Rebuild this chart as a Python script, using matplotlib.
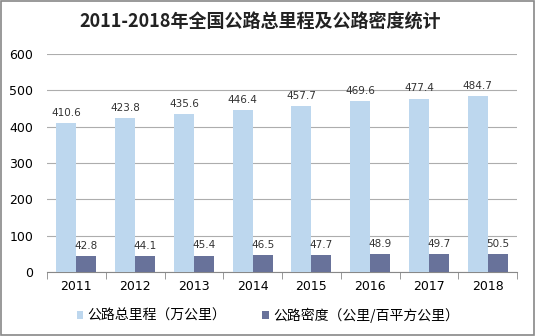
import matplotlib
matplotlib.use("Agg")
import matplotlib.pyplot as plt
import numpy as np

plt.rcParams['font.family'] = ['Noto Sans CJK SC', 'DejaVu Sans']

years = ['2011', '2012', '2013', '2014', '2015', '2016', '2017', '2018']
mileage = [410.6, 423.8, 435.6, 446.4, 457.7, 469.6, 477.4, 484.7]
density = [42.8, 44.1, 45.4, 46.5, 47.7, 48.9, 49.7, 50.5]
series_names = ['公路总里程（万公里）', '公路密度（公里/百平方公里）']
title = '2011-2018年全国公路总里程及公路密度统计'

c_light = '#BDD7EE'
c_dark = '#68729A'

W, H = 536, 336
fig = plt.figure(figsize=(W / 100, H / 100), dpi=100)
ax = fig.add_axes([47 / W, 1 - 272 / H, (517 - 47) / W, (272 - 54) / H])

x = np.arange(len(years))
bw = 0.34
b1 = ax.bar(x - bw / 2, mileage, bw, color=c_light, label=series_names[0], zorder=3)
b2 = ax.bar(x + bw / 2, density, bw, color=c_dark, label=series_names[1], zorder=3)

for rect, v in zip(b1, mileage):
    ax.text(rect.get_x() + rect.get_width() / 2, v + 14, f'{v}', ha='center', va='bottom',
            fontsize=7.5, color='#333333', family='DejaVu Sans')
for rect, v in zip(b2, density):
    ax.text(rect.get_x() + rect.get_width() / 2, v + 14, f'{v}', ha='center', va='bottom',
            fontsize=7.5, color='#333333', family='DejaVu Sans')

ax.set_xlim(-0.5, len(years) - 0.5)
ax.set_ylim(0, 600)
ax.set_yticks(range(0, 601, 100))
ax.set_yticklabels([str(v) for v in range(0, 601, 100)], fontsize=9, family='DejaVu Sans')
ax.set_xticks(x)
ax.set_xticklabels(years, fontsize=9, family='DejaVu Sans')
ax.set_xticks(np.arange(-0.5, len(years), 1), minor=True)
ax.tick_params(axis='x', which='major', length=0, pad=6)
ax.tick_params(axis='x', which='minor', length=5, color='#888888')
ax.tick_params(axis='y', length=0, pad=10)

ax.grid(axis='y', color='#ADADAD', linewidth=0.8, zorder=0)
for s in ['top', 'right', 'left']:
    ax.spines[s].set_visible(False)
ax.spines['bottom'].set_color('#888888')

fig.text(260 / W, 1 - 22 / H, title, ha='center', va='center', fontsize=13, fontweight='bold', color='#222222')

leg = fig.legend(handles=[b1, b2], labels=series_names, loc='center', bbox_to_anchor=(0.5, 1 - 315 / H),
                 ncol=2, frameon=False, fontsize=10, handlelength=0.5, handleheight=0.5,
                 handletextpad=0.3, columnspacing=2.6)

fig.patches.append(plt.Rectangle((0.002, 0.003), 0.995, 0.994, transform=fig.transFigure,
                                 fill=False, edgecolor='#888888', linewidth=1.2))

fig.savefig('out.png', dpi=100)
